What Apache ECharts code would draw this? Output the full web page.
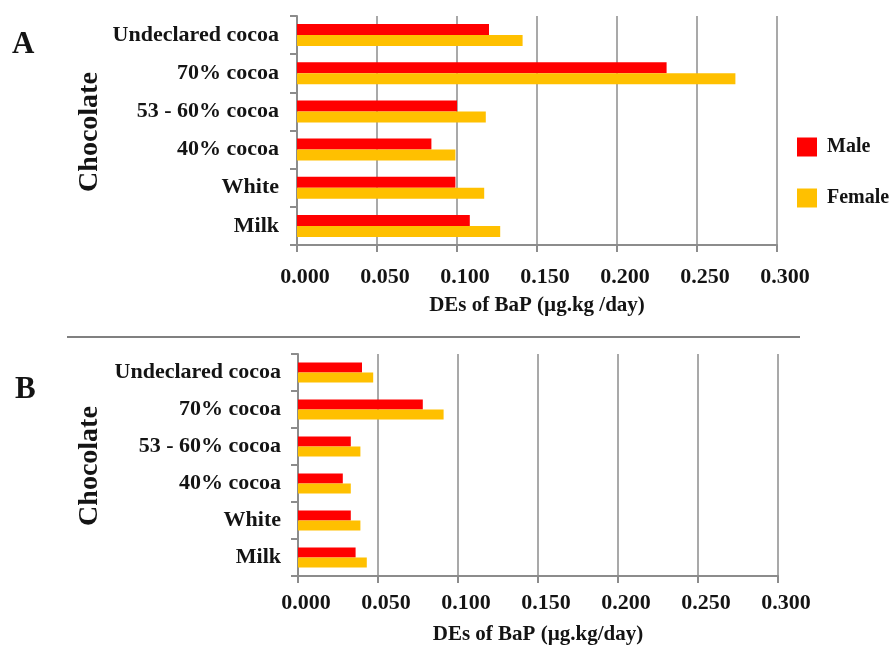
<!DOCTYPE html>
<html>
<head>
<meta charset="utf-8">
<script src="https://cdn.jsdelivr.net/npm/echarts@6/dist/echarts.min.js"></script>
<style>
  html, body { margin: 0; padding: 0; background: #fff; }
  #chart { width: 891px; height: 646px; }
</style>
</head>
<body>
<div id="chart"></div>
<script>
// Chocolate types, listed top to bottom
const categories = ['Undeclared cocoa', '70% cocoa', '53 - 60% cocoa', '40% cocoa', 'White', 'Milk'];

// Panel A: dietary exposure of BaP (µg/kg/day)
const maleA   = [0.120, 0.231, 0.100, 0.084, 0.099, 0.108];
const femaleA = [0.141, 0.274, 0.118, 0.099, 0.117, 0.127];

// Panel B: dietary exposure of BaP (µg/kg/day)
const maleB   = [0.040, 0.078, 0.033, 0.028, 0.033, 0.036];
const femaleB = [0.047, 0.091, 0.039, 0.033, 0.039, 0.043];

const xTicks = { min: 0, max: 0.3, interval: 0.05 };
const axisTitleA = 'DEs of BaP (µg.kg /day)';
const axisTitleB = 'DEs of BaP (µg.kg/day)';

const FONT = '"Liberation Serif", "Times New Roman", serif';
const INK = '#141414';
const GRID_GRAY = '#8c8c8c';
const RED = '#ff0000';
const GOLD = '#ffc000';

function xAxisFor(gridIndex, title, labelMargin, nameGap) {
  return {
    type: 'value', gridIndex,
    min: xTicks.min, max: xTicks.max, interval: xTicks.interval,
    name: title, nameLocation: 'middle', nameGap,
    nameTextStyle: { fontFamily: FONT, fontWeight: 'bold', fontSize: 21, color: INK },
    axisLine: { show: true, lineStyle: { color: GRID_GRAY, width: 2 } },
    axisTick: { show: true, length: 7, lineStyle: { color: GRID_GRAY, width: 2 } },
    splitLine: { show: true, lineStyle: { color: GRID_GRAY, width: 1.5 } },
    axisLabel: {
      margin: labelMargin, fontFamily: FONT, fontWeight: 'bold', fontSize: 22, color: INK,
      padding: [0, 0, 0, 16],
      formatter: v => v.toFixed(3)
    }
  };
}

function yAxisFor(gridIndex, labelMargin) {
  return {
    type: 'category', gridIndex, data: categories, inverse: true,
    axisLine: { show: true, lineStyle: { color: GRID_GRAY, width: 2 } },
    axisTick: { show: true, length: 7, lineStyle: { color: GRID_GRAY, width: 2 } },
    axisLabel: {
      margin: labelMargin, fontFamily: FONT, fontWeight: 'bold', fontSize: 22, color: INK
    }
  };
}

function barSeries(name, data, color, idx, width) {
  return {
    name, type: 'bar', data,
    xAxisIndex: idx, yAxisIndex: idx,
    barWidth: width, barGap: '0%',
    itemStyle: { color },
    silent: true
  };
}

const chart = echarts.init(document.getElementById('chart'), null, { renderer: 'canvas' });

chart.setOption({
  animation: false,
  backgroundColor: '#ffffff',
  grid: [
    { left: 297, top: 16, width: 480, height: 229, outerBoundsMode: 'none', containLabel: false },
    { left: 298, top: 354, width: 480, height: 222, outerBoundsMode: 'none', containLabel: false }
  ],
  xAxis: [
    xAxisFor(0, axisTitleA, 21, 50),
    xAxisFor(1, axisTitleB, 16, 48)
  ],
  yAxis: [
    yAxisFor(0, 18),
    yAxisFor(1, 17)
  ],
  legend: {
    orient: 'vertical', left: 797, top: 137, padding: 0,
    itemWidth: 20, itemHeight: 19, itemGap: 31,
    icon: 'rect',
    data: ['Male', 'Female'],
    textStyle: { fontFamily: FONT, fontWeight: 'bold', fontSize: 20, color: INK, padding: [0, 0, 0, 5] }
  },
  series: [
    barSeries('Male', maleA, RED, 0, 11),
    barSeries('Female', femaleA, GOLD, 0, 11),
    barSeries('Male', maleB, RED, 1, 10),
    barSeries('Female', femaleB, GOLD, 1, 10)
  ],
  graphic: [
    { type: 'text', left: 12, top: 29, style: { text: 'A', font: 'bold 31px ' + FONT, fill: INK } },
    { type: 'text', left: 15, top: 374, style: { text: 'B', font: 'bold 31px ' + FONT, fill: INK } },
    { type: 'text', x: 90, y: 132, rotation: Math.PI / 2,
      style: { text: 'Chocolate', font: 'bold 28px ' + FONT, fill: INK, align: 'center', verticalAlign: 'middle' } },
    { type: 'text', x: 90, y: 466, rotation: Math.PI / 2,
      style: { text: 'Chocolate', font: 'bold 28px ' + FONT, fill: INK, align: 'center', verticalAlign: 'middle' } },
    { type: 'line', shape: { x1: 67, y1: 337, x2: 800, y2: 337 },
      style: { stroke: '#808080', lineWidth: 2 } }
  ]
});
</script>
</body>
</html>
